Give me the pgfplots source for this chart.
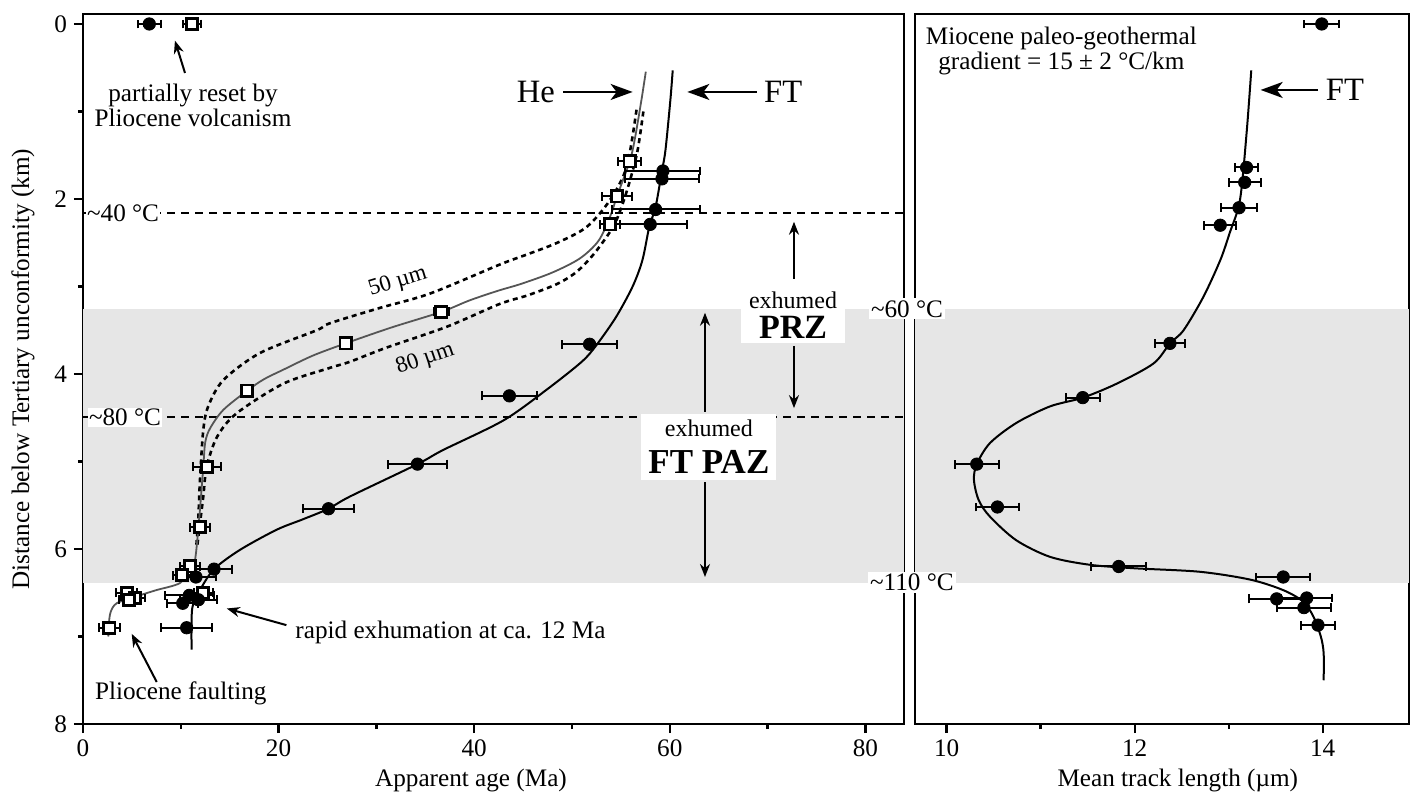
\documentclass[border=0pt]{standalone}
\usepackage{fontspec}
\setmainfont{Liberation Serif}
\usepackage{pgfplots}
\pgfplotsset{compat=1.18}
\usepackage{pgfplotstable}
\usetikzlibrary{arrows.meta}

\definecolor{band}{HTML}{E6E6E6}
\definecolor{hecol}{HTML}{555555}
\newcommand\fs{\fontsize{12.6}{12.5}\selectfont}

% apatite fission-track ages (Ma), depth (km), 1 sigma
\pgfplotstableread{
a d e
6.78 0.00 1.16
59.3 1.68 3.83
59.2 1.77 3.83
58.55 2.12 4.5
58.0 2.29 3.78
51.8 3.66 2.85
43.6 4.25 2.81
34.2 5.03 3.03
25.1 5.54 2.58
13.4 6.23 1.8
11.55 6.32 2.0
10.87 6.53 2.5
11.8 6.58 1.9
10.2 6.62 1.6
10.6 6.90 2.6
}\ftage

% apatite (U-Th)/He ages
\pgfplotstableread{
a d e
11.15 0.00 0.9
55.9 1.57 1.15
54.6 1.97 1.5
53.9 2.29 1.0
36.65 3.29 0.77
26.85 3.65 0.6
16.8 4.19 0.6
12.7 5.06 1.45
11.96 5.75 1.05
10.94 6.20 1.0
10.1 6.30 0.9
12.3 6.50 1.0
4.47 6.50 1.1
5.32 6.56 1.0
4.7 6.58 1.0
2.69 6.90 1.1
}\heage

% mean track lengths (um)
\pgfplotstableread{
l d e
13.99 0.00 0.185
13.19 1.64 0.12
13.17 1.81 0.17
13.11 2.10 0.19
12.91 2.30 0.17
12.375 3.65 0.16
11.447 4.27 0.18
10.32 5.03 0.235
10.54 5.52 0.23
11.83 6.20 0.29
13.58 6.32 0.29
13.51 6.57 0.29
13.83 6.56 0.27
13.80 6.67 0.29
13.95 6.87 0.18
}\mtl

\pgfplotsset{
  panel/.style={
    scale only axis, height=355pt,
    y dir=reverse, ymin=-0.114, ymax=8,
    clip=false,
    axis line style={line width=1.3pt},
    tick style={line width=1.2pt, black},
    tick align=outside,
    major tick length=4.5pt, minor tick length=2.5pt,
    xtick pos=bottom, ytick pos=left,
    tick label style={font=\fs},
    label style={font=\fs},
    /pgf/number format/assume math mode=true,
  },
  errx/.style={error bars/.cd, x dir=both, x explicit,
    error bar style={line width=1pt, black},
    error mark=|,
    error mark options={line width=1pt, mark size=2.2pt, black}},
}
\tikzset{
  arr/.style={-{Stealth[length=6.5pt,width=5pt]}, line width=1pt},
  bigarr/.style={-{Stealth[length=11pt,width=8pt,inset=3pt]}, line width=1pt},
  dash40/.style={line width=1.1pt, dash pattern=on 4pt off 3pt},
  dots/.style={line width=1.3pt, dash pattern=on 2.5pt off 2pt},
}

\begin{document}
\begin{tikzpicture}
\begin{axis}[panel,
  width=410.5pt,
  xmin=0, xmax=83.95,
  xtick={0,20,40,60,80}, minor xtick={10,30,50,70},
  ytick={0,2,4,6,8}, minor ytick={1,3,5,7},
  xlabel={Apparent age (Ma)},
  ylabel={Distance below Tertiary unconformity (km)},
  xlabel style={at={(axis description cs:0.4726,0)}, yshift=-28pt, anchor=center},
  ylabel style={at={(axis description cs:-0.0731,0.5)}, anchor=center},
]
  \addplot[fill=band, draw=none, forget plot] coordinates {(0,3.257) (83.95,3.257) (83.95,6.385) (0,6.385)};
  \addplot[dash40] coordinates {(0,2.163) (83.95,2.163)};
  \addplot[dash40] coordinates {(0,4.495) (83.95,4.495)};

  % 50 um and 80 um model curves
  \addplot[dots, smooth] coordinates {
    (56.6,0.98) (55.6,1.63) (53.9,2.01) (51.5,2.32) (48.5,2.50) (45.5,2.63)
    (42.6,2.75) (35.5,3.08) (30.2,3.25) (25.25,3.42) (23.9,3.50) (18.1,3.76)
    (14.35,4.07) (12.8,4.37) (12.3,4.64) (11.96,5.21) (11.8,5.63) (11.6,5.95)};
  \addplot[dots, smooth] coordinates {
    (57.3,1.0) (56.7,1.45) (55.9,1.8) (55.1,2.08) (54.2,2.32) (52.3,2.62)
    (50.5,2.83) (48.5,2.97) (45.5,3.10) (42.6,3.20) (37.2,3.46) (31.0,3.70)
    (27.3,3.86) (25.25,3.93) (20.5,4.11) (15.7,4.45) (13.7,4.72) (12.65,5.06)
    (12.3,5.40) (11.96,5.71) (11.7,5.95)};
  % He curve
  \addplot[hecol, line width=0.9pt, smooth] coordinates {
    (57.55,0.545) (57.1,0.87) (56.4,1.33) (55.9,1.57) (54.6,1.97) (53.9,2.20)
    (52.7,2.48) (50.8,2.68) (48.0,2.84) (44.8,2.97) (42.4,3.05) (39.5,3.16)
    (36.65,3.29) (31.5,3.47) (26.85,3.65) (23.5,3.79) (20.5,3.95) (18.5,4.06)
    (16.8,4.19) (14.35,4.41) (13.0,4.62) (12.5,4.78) (12.3,5.06) (11.9,5.63)
    (11.45,6.13) (10.9,6.24) (9.9,6.39) (7.5,6.47) (5.5,6.54) (3.45,6.62)
    (2.83,6.72) (2.65,6.85) (2.59,7.0)};
  % FT curve
  \addplot[black, line width=1pt, smooth] coordinates {
    (60.3,0.53) (60.06,0.87) (59.56,1.44) (59.2,1.68) (58.55,2.09) (57.9,2.32)
    (57.2,2.70) (56.2,3.0) (54.5,3.35) (52.5,3.67) (51.0,3.86) (47.4,4.18)
    (43.0,4.53) (36.8,4.87) (34.2,5.03) (27.3,5.40) (25.1,5.54) (22.5,5.66)
    (19.8,5.78) (16.05,6.01) (13.4,6.23) (11.96,6.47) (11.2,6.66) (11.1,6.9)
    (11.1,7.15)};

  \addplot[only marks, mark=square*, mark size=2.8pt,
    mark options={fill=white, draw=black, line width=1.4pt}, errx]
    table[x=a, y=d, x error=e] {\heage};
  \addplot[only marks, mark=*, mark size=3.1pt, black, errx]
    table[x=a, y=d, x error=e] {\ftage};

  \node[font=\fs, fill=white, inner sep=0.6pt, anchor=west] at (0.25,2.163) {\textasciitilde 40 °C};
  \node[font=\fs, fill=white, inner sep=0.6pt, anchor=west] at (0.45,4.495) {\textasciitilde 80 °C};

  \node[font=\fs, align=center] at (11.25,0.925) {partially reset by\\Pliocene volcanism};
  \draw[arr] (10.43,0.56) -- (9.4,0.19);
  \node[font=\fs] at (10.0,7.65) {Pliocene faulting};
  \draw[arr] (7.54,7.52) -- (4.98,6.97);
  \node[font=\fs, anchor=west] at (21.0,6.95) {rapid exhumation at ca. 12 Ma};
  \draw[arr] (20.8,6.87) -- (14.7,6.68);

  \node[font=\fontsize{16.3}{17}\selectfont] at (46.3,0.777) {He};
  \draw[bigarr] (49.1,0.777) -- (56.2,0.777);
  \node[font=\fontsize{16.3}{17}\selectfont] at (71.6,0.777) {FT};
  \draw[bigarr] (68.9,0.777) -- (61.8,0.777);

  \node[font=\fontsize{11.5}{12}\selectfont, rotate=17, inner sep=0pt] at (32.2,2.95) {50 µm};
  \node[font=\fontsize{11.5}{12}\selectfont, rotate=19, inner sep=0pt] at (35.0,3.83) {80 µm};

  \node[fill=white, align=center, inner xsep=4pt, inner ysep=2pt] (prz) at (72.6,3.33)
    {{\fontsize{12}{12}\selectfont exhumed}\\[3pt]{\fontsize{17}{17}\selectfont\bfseries PRZ}};
  \draw[arr] (72.7,2.91) -- (72.7,2.26);
  \draw[arr] (72.7,3.68) -- (72.7,4.39);
  \node[fill=white, align=center, inner xsep=3.5pt, inner ysep=3pt] at (64.0,4.834)
    {{\fontsize{12}{12}\selectfont exhumed}\\[6.5pt]{\fontsize{17.5}{17.5}\selectfont\bfseries FT PAZ}};
  \draw[arr] (63.6,4.43) -- (63.6,3.30);
  \draw[arr] (63.6,5.24) -- (63.6,6.32);
\end{axis}

\begin{axis}[panel,
  at={(416pt,0)}, anchor=south west,
  width=247pt,
  xmin=9.663, xmax=14.918,
  xtick={10,12,14}, minor xtick={11,13},
  ytick=\empty,
  xlabel={Mean track length (µm)},
  xlabel style={at={(axis description cs:0.532,0)}, yshift=-28pt, anchor=center},
]
  \addplot[fill=band, draw=none, forget plot] coordinates {(9.663,3.257) (14.918,3.257) (14.918,6.385) (9.663,6.385)};
  \addplot[black, line width=1pt, smooth] coordinates {
    (13.24,0.53) (13.19,1.25) (13.12,2.01) (13.01,2.39) (12.91,2.70) (12.73,3.12)
    (12.52,3.50) (12.375,3.65) (12.20,3.88) (11.81,4.11) (11.45,4.27) (11.10,4.37)
    (10.74,4.56) (10.46,4.79) (10.32,5.03) (10.29,5.21) (10.34,5.44) (10.46,5.63)
    (10.74,5.90) (11.10,6.09) (11.52,6.18) (11.99,6.22) (12.69,6.26) (13.23,6.35)
    (13.58,6.47) (13.79,6.60) (13.90,6.77) (13.98,7.0) (14.01,7.19) (14.01,7.50)};
  \addplot[only marks, mark=*, mark size=3.1pt, black, errx]
    table[x=l, y=d, x error=e] {\mtl};

  \node[font=\fs, align=center] at (11.22,0.31) {Miocene paleo-geothermal\\gradient = 15 ± 2 °C/km};
  \node[font=\fontsize{16.3}{17}\selectfont] at (14.237,0.754) {FT};
  \draw[bigarr] (13.95,0.754) -- (13.34,0.754);

  \coordinate (t60) at (9.578,3.257);
  \coordinate (t110) at (9.63,6.385);
\end{axis}

\node[font=\fs, fill=white, inner sep=1pt] at (t60) {\textasciitilde 60 °C};
\node[font=\fs, fill=white, inner sep=1pt] at (t110) {\textasciitilde 110 °C};

\pgfresetboundingbox
\path (-41.5pt,-34pt) rectangle (663.5pt,362pt);
\end{tikzpicture}
\end{document}
